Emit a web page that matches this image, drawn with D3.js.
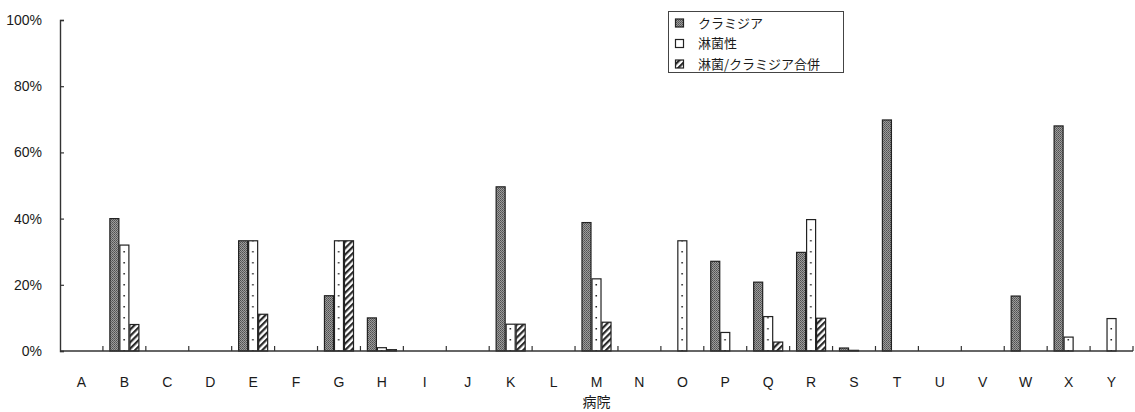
<!DOCTYPE html>
<html>
<head>
<meta charset="utf-8">
<script src="https://cdn.jsdelivr.net/npm/d3@7"></script>
<style>
  html, body { margin: 0; padding: 0; background: #fff; }
  svg { display: block; }
</style>
</head>
<body>
<svg id="chart" width="1135" height="412"></svg>
<script>
// Hospitals A–Y
const categories = ["A","B","C","D","E","F","G","H","I","J","K","L","M","N","O","P","Q","R","S","T","U","V","W","X","Y"];

// Positive rates (%) per hospital
const chlamydia = [0, 40, 0, 0, 33.3, 0, 16.7, 10, 0, 0, 49.6, 0, 38.8, 0, 0, 27.1, 20.8, 29.8, 0.9, 69.8, 0, 0, 16.6, 68, 0];
const gonorrhea = [0, 32, 0, 0, 33.3, 0, 33.3, 1, 0, 0, 8.1, 0, 21.8, 0, 33.3, 5.6, 10.4, 39.7, 0.2, 0, 0, 0, 0, 4.2, 9.8];
const combined  = [0, 8, 0, 0, 11.1, 0, 33.3, 0.4, 0, 0, 8.1, 0, 8.7, 0, 0, 0, 2.7, 9.9, 0, 0, 0, 0, 0, 0, 0];

const seriesNames = ["クラミジア", "淋菌性", "淋菌/クラミジア合併"];
const yTicks = [0, 20, 40, 60, 80, 100];
const xTitle = "病院";

const svg = d3.select("#chart");
const plotLeft = 60, plotRight = 1133, plotTop = 20, plotBottom = 351;

const x0 = d3.scaleBand().domain(categories).range([plotLeft, plotRight]).paddingInner(0).paddingOuter(0);
const bw = x0.bandwidth();
const groupW = bw * 0.7;
const x1 = d3.scaleBand().domain([0, 1, 2]).range([(bw - groupW) / 2, (bw + groupW) / 2]).padding(0);
const y = d3.scaleLinear().domain([0, 100]).range([plotBottom, plotTop]);

const defs = svg.append("defs");

// stippled grey fill
const stip = defs.append("pattern").attr("id", "stip")
  .attr("patternUnits", "userSpaceOnUse").attr("width", 2).attr("height", 2);
stip.append("rect").attr("width", 2).attr("height", 2).attr("fill", "#9c9c9c");
stip.append("rect").attr("width", 1).attr("height", 1).attr("fill", "#505050");
stip.append("rect").attr("x", 1).attr("y", 1).attr("width", 1).attr("height", 1).attr("fill", "#626262");

// diagonal hatch fill
const hatch = defs.append("pattern").attr("id", "hatch")
  .attr("patternUnits", "userSpaceOnUse").attr("width", 4.5).attr("height", 4.5)
  .attr("patternTransform", "rotate(45)");
hatch.append("rect").attr("width", 4.5).attr("height", 4.5).attr("fill", "#fff");
hatch.append("rect").attr("width", 2.2).attr("height", 4.5).attr("fill", "#2a2a2a");

// table of bars built from the series arrays
const seriesVals = [chlamydia, gonorrhea, combined];
const bars = [];
categories.forEach((c, i) => {
  seriesVals.forEach((arr, s) => {
    if (arr[i] > 0) bars.push({ cat: c, s, v: arr[i] });
  });
});

// white bars get a dotted column centred on each bar
bars.filter(d => d.s === 1).forEach((d, k) => {
  const bx = x0(d.cat) + x1(1);
  const p = defs.append("pattern").attr("id", "dots" + k)
    .attr("patternUnits", "userSpaceOnUse")
    .attr("x", bx).attr("y", plotBottom - 6)
    .attr("width", x1.bandwidth()).attr("height", 11);
  p.append("rect").attr("width", x1.bandwidth()).attr("height", 11).attr("fill", "#fff");
  p.append("rect").attr("x", x1.bandwidth() / 2 - 1).attr("y", 5).attr("width", 1.5).attr("height", 1.5).attr("fill", "#222");
  d.fillId = "dots" + k;
});

const fillFor = d => d.s === 0 ? "url(#stip)" : d.s === 2 ? "url(#hatch)" : `url(#${d.fillId})`;

svg.append("g").selectAll("rect").data(bars).join("rect")
  .attr("x", d => x0(d.cat) + x1(d.s) + 0.5)
  .attr("y", d => y(d.v))
  .attr("width", x1.bandwidth() - 1)
  .attr("height", d => plotBottom - y(d.v))
  .attr("fill", fillFor)
  .attr("stroke", "#222")
  .attr("stroke-width", 1.2);

// y axis with inward ticks
const yAxis = d3.axisLeft(y).tickValues(yTicks).tickFormat(d => d + "%").tickSize(-4).tickPadding(18);
const gy = svg.append("g").attr("transform", `translate(${plotLeft},0)`).call(yAxis);
gy.select(".domain").attr("stroke", "#333").attr("stroke-width", 1.4);
gy.selectAll(".tick line").attr("stroke", "#333").attr("stroke-width", 1.2);
gy.selectAll(".tick text").attr("font-family", "Liberation Sans, Arial, sans-serif")
  .attr("font-size", 14).attr("fill", "#1a1a1a");

// x axis: ticks at category boundaries, pointing up
const gx = svg.append("g").attr("transform", `translate(0,${plotBottom})`);
gx.append("line").attr("x1", plotLeft).attr("x2", plotRight).attr("y1", 0).attr("y2", 0)
  .attr("stroke", "#333").attr("stroke-width", 1.4);
gx.selectAll("line.b").data(categories.slice(1).concat(["__end"])).join("line").attr("class", "b")
  .attr("x1", (d, i) => plotLeft + (i + 1) * bw).attr("x2", (d, i) => plotLeft + (i + 1) * bw)
  .attr("y1", 0).attr("y2", -5).attr("stroke", "#333").attr("stroke-width", 1.2);
gx.selectAll("text").data(categories).join("text")
  .attr("x", d => x0(d) + bw / 2).attr("y", 36)
  .attr("text-anchor", "middle")
  .attr("font-family", "Liberation Sans, Arial, sans-serif")
  .attr("font-size", 14).attr("fill", "#1a1a1a").text(d => d);

svg.append("text").attr("x", (plotLeft + plotRight) / 2).attr("y", 407)
  .attr("text-anchor", "middle")
  .attr("font-family", "Noto Sans CJK JP, sans-serif")
  .attr("font-size", 14).attr("fill", "#1a1a1a").text(xTitle);

// legend
const lg = svg.append("g");
lg.append("rect").attr("x", 668.5).attr("y", 11.5).attr("width", 175).attr("height", 61)
  .attr("fill", "#fff").attr("stroke", "#444").attr("stroke-width", 1);
const legendFill = ["url(#stip)", "#fff", "url(#hatch)"];
seriesNames.forEach((name, i) => {
  const cy = 23 + i * 20.5;
  lg.append("rect").attr("x", 675.5).attr("y", cy - 4).attr("width", 8).attr("height", 8)
    .attr("fill", legendFill[i]).attr("stroke", "#222").attr("stroke-width", 1.2);
  lg.append("text").attr("x", 698).attr("y", cy).attr("dy", "0.35em")
    .attr("font-family", "Noto Sans CJK JP, sans-serif")
    .attr("font-size", 13).attr("fill", "#1a1a1a").text(name);
});
</script>
</body>
</html>
